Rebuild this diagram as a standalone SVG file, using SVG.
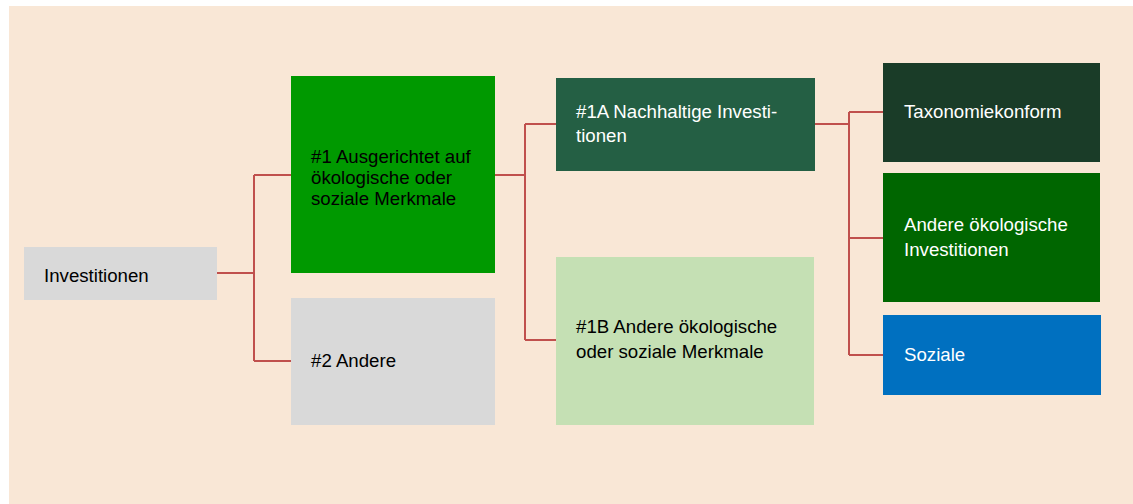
<svg xmlns="http://www.w3.org/2000/svg" width="1133" height="504" viewBox="0 0 1133 504">
<style>
.t{font-family:"Liberation Sans",Arial,sans-serif;font-size:18.67px}
.d{fill:#000}
.w{fill:#fff}
.c{fill:none;stroke:#c0504d;stroke-width:2}
</style>
<rect x="0" y="0" width="1133" height="504" fill="#fff"/>
<rect x="9" y="6" width="1124" height="498" fill="#f9e7d6"/>
<g id="connectors">
<path class="c" d="M217 273H254M254 175V361M254 175H291M254 361H291"/>
<path class="c" d="M495 175H525M525 124V340M525 124H556M525 340H556"/>
<path class="c" d="M815 124H849M849 112V355M849 112H883M849 238H883M849 355H883"/>
</g>
<g id="investitionen">
<rect x="24" y="247" width="193" height="53" fill="#d9d9d9"/>
<text class="t d" x="44" y="282">Investitionen</text>
</g>
<g id="n1">
<rect x="291" y="76" width="204" height="197" fill="#009900"/>
<text class="t d" x="311" y="163">#1 Ausgerichtet auf</text>
<text class="t d" x="311" y="184">ökologische oder</text>
<text class="t d" x="311" y="205">soziale Merkmale</text>
</g>
<g id="n2">
<rect x="291" y="298" width="204" height="127" fill="#d9d9d9"/>
<text class="t d" x="311" y="367">#2 Andere</text>
</g>
<g id="n1a">
<rect x="556" y="78" width="259" height="93" fill="#245f44"/>
<text class="t w" x="576" y="118">#1A Nachhaltige Investi-</text>
<text class="t w" x="576" y="142">tionen</text>
</g>
<g id="n1b">
<rect x="556" y="257" width="258" height="168" fill="#c5e0b4"/>
<text class="t d" x="576" y="333">#1B Andere ökologische</text>
<text class="t d" x="576" y="358">oder soziale Merkmale</text>
</g>
<g id="taxonomie">
<rect x="883" y="63" width="217" height="99" fill="#1a3c28"/>
<text class="t w" x="904" y="118">Taxonomiekonform</text>
</g>
<g id="andere-oeko">
<rect x="883" y="173" width="217" height="129" fill="#006600"/>
<text class="t w" x="904" y="231">Andere ökologische</text>
<text class="t w" x="904" y="256">Investitionen</text>
</g>
<g id="soziale">
<rect x="883" y="315" width="218" height="80" fill="#0070c0"/>
<text class="t w" x="904" y="361">Soziale</text>
</g>
</svg>
